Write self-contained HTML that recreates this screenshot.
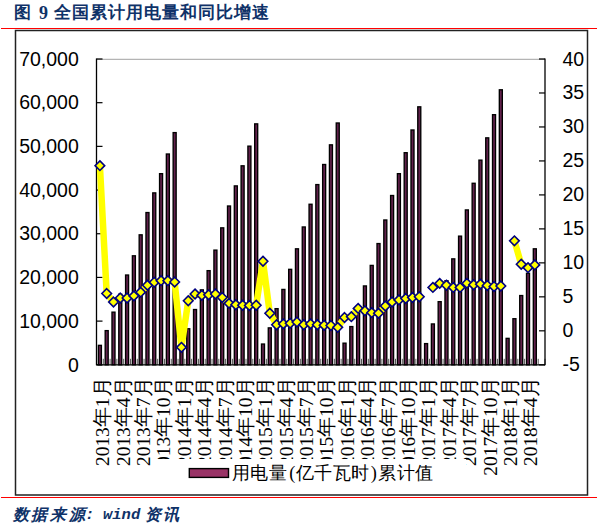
<!DOCTYPE html>
<html><head><meta charset="utf-8"><style>
html,body{margin:0;padding:0;background:#fff;width:606px;height:525px;overflow:hidden}
svg{display:block}
.ax{font-family:"Liberation Sans",sans-serif;font-size:19.5px;fill:#000}
.xl .d{font-family:"Liberation Serif",serif;font-size:19.4px;fill:#000}
.xl .c{font-family:"Liberation Serif",serif;font-size:19.5px;fill:#000}
.lg{font-family:"Liberation Serif",serif;font-size:18.3px;fill:#000}
.ttl{font-family:"Liberation Serif",serif;font-size:17px;font-weight:bold;fill:#0f3268}
.srcm{font-family:"Liberation Mono",monospace;font-size:15.5px;font-weight:bold;font-style:italic;fill:#0f3268}
.src{font-family:"Liberation Serif",serif;font-size:16px;font-weight:bold;font-style:italic;fill:#0f3268}
</style></head><body>
<svg width="606" height="525" viewBox="0 0 606 525">
<text x="13.8" y="18.4" class="ttl">图</text><text x="39" y="18.5" class="ttl" style="font-size:18px">9</text><text x="53.60" y="18.4" class="ttl">全</text><text x="71.60" y="18.4" class="ttl">国</text><text x="89.60" y="18.4" class="ttl">累</text><text x="107.60" y="18.4" class="ttl">计</text><text x="125.60" y="18.4" class="ttl">用</text><text x="143.60" y="18.4" class="ttl">电</text><text x="161.60" y="18.4" class="ttl">量</text><text x="179.60" y="18.4" class="ttl">和</text><text x="197.60" y="18.4" class="ttl">同</text><text x="215.60" y="18.4" class="ttl">比</text><text x="233.60" y="18.4" class="ttl">增</text><text x="251.60" y="18.4" class="ttl">速</text>
<line x1="1" y1="28.5" x2="597" y2="28.5" stroke="#ff0000" stroke-width="1.1"/>
<rect x="15.5" y="30.5" width="572" height="464.5" fill="none" stroke="#222" stroke-width="1.5"/>
<line x1="96.5" y1="59.3" x2="545.0" y2="59.3" stroke="#b4b4b4" stroke-width="1.2"/>
<rect x="98.40" y="345.35" width="3.0" height="19.45" fill="#62214c" stroke="#000" stroke-width="1.35"/>
<rect x="105.19" y="330.63" width="3.0" height="34.17" fill="#62214c" stroke="#000" stroke-width="1.35"/>
<rect x="111.99" y="312.15" width="3.0" height="52.65" fill="#62214c" stroke="#000" stroke-width="1.35"/>
<rect x="118.78" y="294.24" width="3.0" height="70.56" fill="#62214c" stroke="#000" stroke-width="1.35"/>
<rect x="125.58" y="275.02" width="3.0" height="89.78" fill="#62214c" stroke="#000" stroke-width="1.35"/>
<rect x="132.38" y="255.80" width="3.0" height="109.00" fill="#62214c" stroke="#000" stroke-width="1.35"/>
<rect x="139.17" y="234.83" width="3.0" height="129.97" fill="#62214c" stroke="#000" stroke-width="1.35"/>
<rect x="145.97" y="212.55" width="3.0" height="152.25" fill="#62214c" stroke="#000" stroke-width="1.35"/>
<rect x="152.76" y="192.89" width="3.0" height="171.91" fill="#62214c" stroke="#000" stroke-width="1.35"/>
<rect x="159.56" y="173.67" width="3.0" height="191.13" fill="#62214c" stroke="#000" stroke-width="1.35"/>
<rect x="166.35" y="154.01" width="3.0" height="210.79" fill="#62214c" stroke="#000" stroke-width="1.35"/>
<rect x="173.15" y="132.61" width="3.0" height="232.19" fill="#62214c" stroke="#000" stroke-width="1.35"/>
<rect x="179.94" y="345.79" width="3.0" height="19.01" fill="#62214c" stroke="#000" stroke-width="1.35"/>
<rect x="186.74" y="328.75" width="3.0" height="36.05" fill="#62214c" stroke="#000" stroke-width="1.35"/>
<rect x="193.53" y="309.53" width="3.0" height="55.27" fill="#62214c" stroke="#000" stroke-width="1.35"/>
<rect x="200.33" y="289.87" width="3.0" height="74.93" fill="#62214c" stroke="#000" stroke-width="1.35"/>
<rect x="207.12" y="270.65" width="3.0" height="94.15" fill="#62214c" stroke="#000" stroke-width="1.35"/>
<rect x="213.92" y="250.12" width="3.0" height="114.68" fill="#62214c" stroke="#000" stroke-width="1.35"/>
<rect x="220.72" y="227.84" width="3.0" height="136.96" fill="#62214c" stroke="#000" stroke-width="1.35"/>
<rect x="227.51" y="206.00" width="3.0" height="158.80" fill="#62214c" stroke="#000" stroke-width="1.35"/>
<rect x="234.31" y="185.90" width="3.0" height="178.90" fill="#62214c" stroke="#000" stroke-width="1.35"/>
<rect x="241.10" y="165.81" width="3.0" height="198.99" fill="#62214c" stroke="#000" stroke-width="1.35"/>
<rect x="247.90" y="146.15" width="3.0" height="218.65" fill="#62214c" stroke="#000" stroke-width="1.35"/>
<rect x="254.69" y="123.87" width="3.0" height="240.93" fill="#62214c" stroke="#000" stroke-width="1.35"/>
<rect x="261.49" y="344.04" width="3.0" height="20.76" fill="#62214c" stroke="#000" stroke-width="1.35"/>
<rect x="268.28" y="327.88" width="3.0" height="36.92" fill="#62214c" stroke="#000" stroke-width="1.35"/>
<rect x="275.08" y="308.66" width="3.0" height="56.14" fill="#62214c" stroke="#000" stroke-width="1.35"/>
<rect x="281.88" y="289.44" width="3.0" height="75.36" fill="#62214c" stroke="#000" stroke-width="1.35"/>
<rect x="288.67" y="269.34" width="3.0" height="95.46" fill="#62214c" stroke="#000" stroke-width="1.35"/>
<rect x="295.47" y="248.81" width="3.0" height="115.99" fill="#62214c" stroke="#000" stroke-width="1.35"/>
<rect x="302.26" y="226.97" width="3.0" height="137.83" fill="#62214c" stroke="#000" stroke-width="1.35"/>
<rect x="309.06" y="204.25" width="3.0" height="160.55" fill="#62214c" stroke="#000" stroke-width="1.35"/>
<rect x="315.85" y="184.59" width="3.0" height="180.21" fill="#62214c" stroke="#000" stroke-width="1.35"/>
<rect x="322.65" y="164.50" width="3.0" height="200.30" fill="#62214c" stroke="#000" stroke-width="1.35"/>
<rect x="329.44" y="144.84" width="3.0" height="219.96" fill="#62214c" stroke="#000" stroke-width="1.35"/>
<rect x="336.24" y="122.99" width="3.0" height="241.81" fill="#62214c" stroke="#000" stroke-width="1.35"/>
<rect x="343.03" y="343.17" width="3.0" height="21.63" fill="#62214c" stroke="#000" stroke-width="1.35"/>
<rect x="349.83" y="326.57" width="3.0" height="38.23" fill="#62214c" stroke="#000" stroke-width="1.35"/>
<rect x="356.62" y="307.78" width="3.0" height="57.02" fill="#62214c" stroke="#000" stroke-width="1.35"/>
<rect x="363.42" y="285.94" width="3.0" height="78.86" fill="#62214c" stroke="#000" stroke-width="1.35"/>
<rect x="370.22" y="265.41" width="3.0" height="99.39" fill="#62214c" stroke="#000" stroke-width="1.35"/>
<rect x="377.01" y="243.57" width="3.0" height="121.23" fill="#62214c" stroke="#000" stroke-width="1.35"/>
<rect x="383.81" y="219.98" width="3.0" height="144.82" fill="#62214c" stroke="#000" stroke-width="1.35"/>
<rect x="390.60" y="195.51" width="3.0" height="169.29" fill="#62214c" stroke="#000" stroke-width="1.35"/>
<rect x="397.40" y="173.67" width="3.0" height="191.13" fill="#62214c" stroke="#000" stroke-width="1.35"/>
<rect x="404.19" y="152.70" width="3.0" height="212.10" fill="#62214c" stroke="#000" stroke-width="1.35"/>
<rect x="410.99" y="129.98" width="3.0" height="234.82" fill="#62214c" stroke="#000" stroke-width="1.35"/>
<rect x="417.78" y="106.83" width="3.0" height="257.97" fill="#62214c" stroke="#000" stroke-width="1.35"/>
<rect x="424.58" y="343.61" width="3.0" height="21.19" fill="#62214c" stroke="#000" stroke-width="1.35"/>
<rect x="431.38" y="323.95" width="3.0" height="40.85" fill="#62214c" stroke="#000" stroke-width="1.35"/>
<rect x="438.17" y="301.67" width="3.0" height="63.13" fill="#62214c" stroke="#000" stroke-width="1.35"/>
<rect x="444.97" y="280.70" width="3.0" height="84.10" fill="#62214c" stroke="#000" stroke-width="1.35"/>
<rect x="451.76" y="258.86" width="3.0" height="105.94" fill="#62214c" stroke="#000" stroke-width="1.35"/>
<rect x="458.56" y="236.14" width="3.0" height="128.66" fill="#62214c" stroke="#000" stroke-width="1.35"/>
<rect x="465.35" y="209.93" width="3.0" height="154.87" fill="#62214c" stroke="#000" stroke-width="1.35"/>
<rect x="472.15" y="183.28" width="3.0" height="181.52" fill="#62214c" stroke="#000" stroke-width="1.35"/>
<rect x="478.94" y="160.13" width="3.0" height="204.67" fill="#62214c" stroke="#000" stroke-width="1.35"/>
<rect x="485.74" y="137.85" width="3.0" height="226.95" fill="#62214c" stroke="#000" stroke-width="1.35"/>
<rect x="492.53" y="114.69" width="3.0" height="250.11" fill="#62214c" stroke="#000" stroke-width="1.35"/>
<rect x="499.33" y="89.79" width="3.0" height="275.01" fill="#62214c" stroke="#000" stroke-width="1.35"/>
<rect x="506.12" y="338.36" width="3.0" height="26.44" fill="#62214c" stroke="#000" stroke-width="1.35"/>
<rect x="512.92" y="318.71" width="3.0" height="46.09" fill="#62214c" stroke="#000" stroke-width="1.35"/>
<rect x="519.72" y="295.55" width="3.0" height="69.25" fill="#62214c" stroke="#000" stroke-width="1.35"/>
<rect x="526.51" y="273.27" width="3.0" height="91.53" fill="#62214c" stroke="#000" stroke-width="1.35"/>
<rect x="533.31" y="248.81" width="3.0" height="115.99" fill="#62214c" stroke="#000" stroke-width="1.35"/>
<line x1="96.50" y1="358.8" x2="96.50" y2="364.8" stroke="#555" stroke-width="1"/>
<line x1="103.30" y1="358.8" x2="103.30" y2="364.8" stroke="#555" stroke-width="1"/>
<line x1="110.09" y1="358.8" x2="110.09" y2="364.8" stroke="#555" stroke-width="1"/>
<line x1="116.89" y1="358.8" x2="116.89" y2="364.8" stroke="#555" stroke-width="1"/>
<line x1="123.68" y1="358.8" x2="123.68" y2="364.8" stroke="#555" stroke-width="1"/>
<line x1="130.48" y1="358.8" x2="130.48" y2="364.8" stroke="#555" stroke-width="1"/>
<line x1="137.27" y1="358.8" x2="137.27" y2="364.8" stroke="#555" stroke-width="1"/>
<line x1="144.07" y1="358.8" x2="144.07" y2="364.8" stroke="#555" stroke-width="1"/>
<line x1="150.86" y1="358.8" x2="150.86" y2="364.8" stroke="#555" stroke-width="1"/>
<line x1="157.66" y1="358.8" x2="157.66" y2="364.8" stroke="#555" stroke-width="1"/>
<line x1="164.45" y1="358.8" x2="164.45" y2="364.8" stroke="#555" stroke-width="1"/>
<line x1="171.25" y1="358.8" x2="171.25" y2="364.8" stroke="#555" stroke-width="1"/>
<line x1="178.05" y1="358.8" x2="178.05" y2="364.8" stroke="#555" stroke-width="1"/>
<line x1="184.84" y1="358.8" x2="184.84" y2="364.8" stroke="#555" stroke-width="1"/>
<line x1="191.64" y1="358.8" x2="191.64" y2="364.8" stroke="#555" stroke-width="1"/>
<line x1="198.43" y1="358.8" x2="198.43" y2="364.8" stroke="#555" stroke-width="1"/>
<line x1="205.23" y1="358.8" x2="205.23" y2="364.8" stroke="#555" stroke-width="1"/>
<line x1="212.02" y1="358.8" x2="212.02" y2="364.8" stroke="#555" stroke-width="1"/>
<line x1="218.82" y1="358.8" x2="218.82" y2="364.8" stroke="#555" stroke-width="1"/>
<line x1="225.61" y1="358.8" x2="225.61" y2="364.8" stroke="#555" stroke-width="1"/>
<line x1="232.41" y1="358.8" x2="232.41" y2="364.8" stroke="#555" stroke-width="1"/>
<line x1="239.20" y1="358.8" x2="239.20" y2="364.8" stroke="#555" stroke-width="1"/>
<line x1="246.00" y1="358.8" x2="246.00" y2="364.8" stroke="#555" stroke-width="1"/>
<line x1="252.80" y1="358.8" x2="252.80" y2="364.8" stroke="#555" stroke-width="1"/>
<line x1="259.59" y1="358.8" x2="259.59" y2="364.8" stroke="#555" stroke-width="1"/>
<line x1="266.39" y1="358.8" x2="266.39" y2="364.8" stroke="#555" stroke-width="1"/>
<line x1="273.18" y1="358.8" x2="273.18" y2="364.8" stroke="#555" stroke-width="1"/>
<line x1="279.98" y1="358.8" x2="279.98" y2="364.8" stroke="#555" stroke-width="1"/>
<line x1="286.77" y1="358.8" x2="286.77" y2="364.8" stroke="#555" stroke-width="1"/>
<line x1="293.57" y1="358.8" x2="293.57" y2="364.8" stroke="#555" stroke-width="1"/>
<line x1="300.36" y1="358.8" x2="300.36" y2="364.8" stroke="#555" stroke-width="1"/>
<line x1="307.16" y1="358.8" x2="307.16" y2="364.8" stroke="#555" stroke-width="1"/>
<line x1="313.95" y1="358.8" x2="313.95" y2="364.8" stroke="#555" stroke-width="1"/>
<line x1="320.75" y1="358.8" x2="320.75" y2="364.8" stroke="#555" stroke-width="1"/>
<line x1="327.55" y1="358.8" x2="327.55" y2="364.8" stroke="#555" stroke-width="1"/>
<line x1="334.34" y1="358.8" x2="334.34" y2="364.8" stroke="#555" stroke-width="1"/>
<line x1="341.14" y1="358.8" x2="341.14" y2="364.8" stroke="#555" stroke-width="1"/>
<line x1="347.93" y1="358.8" x2="347.93" y2="364.8" stroke="#555" stroke-width="1"/>
<line x1="354.73" y1="358.8" x2="354.73" y2="364.8" stroke="#555" stroke-width="1"/>
<line x1="361.52" y1="358.8" x2="361.52" y2="364.8" stroke="#555" stroke-width="1"/>
<line x1="368.32" y1="358.8" x2="368.32" y2="364.8" stroke="#555" stroke-width="1"/>
<line x1="375.11" y1="358.8" x2="375.11" y2="364.8" stroke="#555" stroke-width="1"/>
<line x1="381.91" y1="358.8" x2="381.91" y2="364.8" stroke="#555" stroke-width="1"/>
<line x1="388.70" y1="358.8" x2="388.70" y2="364.8" stroke="#555" stroke-width="1"/>
<line x1="395.50" y1="358.8" x2="395.50" y2="364.8" stroke="#555" stroke-width="1"/>
<line x1="402.30" y1="358.8" x2="402.30" y2="364.8" stroke="#555" stroke-width="1"/>
<line x1="409.09" y1="358.8" x2="409.09" y2="364.8" stroke="#555" stroke-width="1"/>
<line x1="415.89" y1="358.8" x2="415.89" y2="364.8" stroke="#555" stroke-width="1"/>
<line x1="422.68" y1="358.8" x2="422.68" y2="364.8" stroke="#555" stroke-width="1"/>
<line x1="429.48" y1="358.8" x2="429.48" y2="364.8" stroke="#555" stroke-width="1"/>
<line x1="436.27" y1="358.8" x2="436.27" y2="364.8" stroke="#555" stroke-width="1"/>
<line x1="443.07" y1="358.8" x2="443.07" y2="364.8" stroke="#555" stroke-width="1"/>
<line x1="449.86" y1="358.8" x2="449.86" y2="364.8" stroke="#555" stroke-width="1"/>
<line x1="456.66" y1="358.8" x2="456.66" y2="364.8" stroke="#555" stroke-width="1"/>
<line x1="463.45" y1="358.8" x2="463.45" y2="364.8" stroke="#555" stroke-width="1"/>
<line x1="470.25" y1="358.8" x2="470.25" y2="364.8" stroke="#555" stroke-width="1"/>
<line x1="477.05" y1="358.8" x2="477.05" y2="364.8" stroke="#555" stroke-width="1"/>
<line x1="483.84" y1="358.8" x2="483.84" y2="364.8" stroke="#555" stroke-width="1"/>
<line x1="490.64" y1="358.8" x2="490.64" y2="364.8" stroke="#555" stroke-width="1"/>
<line x1="497.43" y1="358.8" x2="497.43" y2="364.8" stroke="#555" stroke-width="1"/>
<line x1="504.23" y1="358.8" x2="504.23" y2="364.8" stroke="#555" stroke-width="1"/>
<line x1="511.02" y1="358.8" x2="511.02" y2="364.8" stroke="#555" stroke-width="1"/>
<line x1="517.82" y1="358.8" x2="517.82" y2="364.8" stroke="#555" stroke-width="1"/>
<line x1="524.61" y1="358.8" x2="524.61" y2="364.8" stroke="#555" stroke-width="1"/>
<line x1="531.41" y1="358.8" x2="531.41" y2="364.8" stroke="#555" stroke-width="1"/>
<line x1="538.20" y1="358.8" x2="538.20" y2="364.8" stroke="#555" stroke-width="1"/>
<line x1="545.00" y1="358.8" x2="545.00" y2="364.8" stroke="#555" stroke-width="1"/>
<line x1="96.5" y1="58.5" x2="96.5" y2="365.3" stroke="#000" stroke-width="1.3"/>
<line x1="545.0" y1="58.5" x2="545.0" y2="365.3" stroke="#000" stroke-width="1.3"/>
<line x1="96.5" y1="364.8" x2="545.0" y2="364.8" stroke="#000" stroke-width="1.3"/>
<line x1="96.5" y1="59.00" x2="102.5" y2="59.00" stroke="#000" stroke-width="1.2"/>
<line x1="96.5" y1="102.69" x2="102.5" y2="102.69" stroke="#000" stroke-width="1.2"/>
<line x1="96.5" y1="146.37" x2="102.5" y2="146.37" stroke="#000" stroke-width="1.2"/>
<line x1="96.5" y1="190.06" x2="102.5" y2="190.06" stroke="#000" stroke-width="1.2"/>
<line x1="96.5" y1="233.74" x2="102.5" y2="233.74" stroke="#000" stroke-width="1.2"/>
<line x1="96.5" y1="277.43" x2="102.5" y2="277.43" stroke="#000" stroke-width="1.2"/>
<line x1="96.5" y1="321.11" x2="102.5" y2="321.11" stroke="#000" stroke-width="1.2"/>
<line x1="96.5" y1="364.80" x2="102.5" y2="364.80" stroke="#000" stroke-width="1.2"/>
<line x1="539.0" y1="59.00" x2="545.0" y2="59.00" stroke="#000" stroke-width="1.2"/>
<line x1="539.0" y1="92.98" x2="545.0" y2="92.98" stroke="#000" stroke-width="1.2"/>
<line x1="539.0" y1="126.96" x2="545.0" y2="126.96" stroke="#000" stroke-width="1.2"/>
<line x1="539.0" y1="160.93" x2="545.0" y2="160.93" stroke="#000" stroke-width="1.2"/>
<line x1="539.0" y1="194.91" x2="545.0" y2="194.91" stroke="#000" stroke-width="1.2"/>
<line x1="539.0" y1="228.89" x2="545.0" y2="228.89" stroke="#000" stroke-width="1.2"/>
<line x1="539.0" y1="262.87" x2="545.0" y2="262.87" stroke="#000" stroke-width="1.2"/>
<line x1="539.0" y1="296.84" x2="545.0" y2="296.84" stroke="#000" stroke-width="1.2"/>
<line x1="539.0" y1="330.82" x2="545.0" y2="330.82" stroke="#000" stroke-width="1.2"/>
<line x1="539.0" y1="364.80" x2="545.0" y2="364.80" stroke="#000" stroke-width="1.2"/>
<clipPath id="pc"><rect x="96.5" y="59.0" width="448.5" height="305.8"/></clipPath>
<polyline clip-path="url(#pc)" points="99.90,165.69 106.69,293.51 113.49,302.01 120.28,298.00 127.08,298.00 133.88,295.89 140.67,292.16 147.47,285.22 154.26,282.30 161.06,280.67 167.85,280.67 174.65,282.03 181.44,347.34 188.24,300.72 195.03,293.99 201.83,295.35 208.62,294.81 215.42,293.99 222.22,297.52 229.01,303.37 235.81,304.73 242.60,305.20 249.40,305.54 256.19,305.20 262.99,261.24 269.78,313.22 276.58,324.71 283.38,323.89 290.17,323.35 296.97,322.06 303.76,324.71 310.56,323.89 317.35,324.71 324.15,325.25 330.94,325.52 337.74,327.36 344.53,317.50 351.33,316.69 358.12,308.40 364.92,310.84 371.72,312.68 378.51,313.22 385.31,306.02 392.10,302.01 398.90,299.90 405.69,298.54 412.49,297.52 419.28,296.71" fill="none" stroke="#ffff00" stroke-width="6.5" stroke-linejoin="round"/>
<polyline clip-path="url(#pc)" points="432.88,287.40 439.67,283.39 446.47,285.22 453.26,287.40 460.06,287.40 466.85,283.39 473.65,284.75 480.44,284.14 487.24,285.50 494.03,286.52 500.83,285.97" fill="none" stroke="#ffff00" stroke-width="6.5" stroke-linejoin="round"/>
<polyline clip-path="url(#pc)" points="514.42,240.85 521.22,264.23 528.01,267.69 534.81,264.91" fill="none" stroke="#ffff00" stroke-width="6.5" stroke-linejoin="round"/>
<path d="M99.90 160.89L104.70 165.69L99.90 170.49L95.10 165.69Z" fill="#ffff00" stroke="#000080" stroke-width="1.6"/>
<path d="M106.69 288.71L111.49 293.51L106.69 298.31L101.89 293.51Z" fill="#ffff00" stroke="#000080" stroke-width="1.6"/>
<path d="M113.49 297.21L118.29 302.01L113.49 306.81L108.69 302.01Z" fill="#ffff00" stroke="#000080" stroke-width="1.6"/>
<path d="M120.28 293.20L125.08 298.00L120.28 302.80L115.48 298.00Z" fill="#ffff00" stroke="#000080" stroke-width="1.6"/>
<path d="M127.08 293.20L131.88 298.00L127.08 302.80L122.28 298.00Z" fill="#ffff00" stroke="#000080" stroke-width="1.6"/>
<path d="M133.88 291.09L138.68 295.89L133.88 300.69L129.07 295.89Z" fill="#ffff00" stroke="#000080" stroke-width="1.6"/>
<path d="M140.67 287.36L145.47 292.16L140.67 296.96L135.87 292.16Z" fill="#ffff00" stroke="#000080" stroke-width="1.6"/>
<path d="M147.47 280.42L152.27 285.22L147.47 290.02L142.67 285.22Z" fill="#ffff00" stroke="#000080" stroke-width="1.6"/>
<path d="M154.26 277.50L159.06 282.30L154.26 287.10L149.46 282.30Z" fill="#ffff00" stroke="#000080" stroke-width="1.6"/>
<path d="M161.06 275.87L165.86 280.67L161.06 285.47L156.26 280.67Z" fill="#ffff00" stroke="#000080" stroke-width="1.6"/>
<path d="M167.85 275.87L172.65 280.67L167.85 285.47L163.05 280.67Z" fill="#ffff00" stroke="#000080" stroke-width="1.6"/>
<path d="M174.65 277.23L179.45 282.03L174.65 286.83L169.85 282.03Z" fill="#ffff00" stroke="#000080" stroke-width="1.6"/>
<path d="M181.44 342.54L186.24 347.34L181.44 352.14L176.64 347.34Z" fill="#ffff00" stroke="#000080" stroke-width="1.6"/>
<path d="M188.24 295.92L193.04 300.72L188.24 305.52L183.44 300.72Z" fill="#ffff00" stroke="#000080" stroke-width="1.6"/>
<path d="M195.03 289.19L199.83 293.99L195.03 298.79L190.23 293.99Z" fill="#ffff00" stroke="#000080" stroke-width="1.6"/>
<path d="M201.83 290.55L206.63 295.35L201.83 300.15L197.03 295.35Z" fill="#ffff00" stroke="#000080" stroke-width="1.6"/>
<path d="M208.62 290.01L213.43 294.81L208.62 299.61L203.82 294.81Z" fill="#ffff00" stroke="#000080" stroke-width="1.6"/>
<path d="M215.42 289.19L220.22 293.99L215.42 298.79L210.62 293.99Z" fill="#ffff00" stroke="#000080" stroke-width="1.6"/>
<path d="M222.22 292.72L227.02 297.52L222.22 302.32L217.42 297.52Z" fill="#ffff00" stroke="#000080" stroke-width="1.6"/>
<path d="M229.01 298.57L233.81 303.37L229.01 308.17L224.21 303.37Z" fill="#ffff00" stroke="#000080" stroke-width="1.6"/>
<path d="M235.81 299.93L240.61 304.73L235.81 309.53L231.01 304.73Z" fill="#ffff00" stroke="#000080" stroke-width="1.6"/>
<path d="M242.60 300.40L247.40 305.20L242.60 310.00L237.80 305.20Z" fill="#ffff00" stroke="#000080" stroke-width="1.6"/>
<path d="M249.40 300.74L254.20 305.54L249.40 310.34L244.60 305.54Z" fill="#ffff00" stroke="#000080" stroke-width="1.6"/>
<path d="M256.19 300.40L260.99 305.20L256.19 310.00L251.39 305.20Z" fill="#ffff00" stroke="#000080" stroke-width="1.6"/>
<path d="M262.99 256.44L267.79 261.24L262.99 266.04L258.19 261.24Z" fill="#ffff00" stroke="#000080" stroke-width="1.6"/>
<path d="M269.78 308.42L274.58 313.22L269.78 318.02L264.98 313.22Z" fill="#ffff00" stroke="#000080" stroke-width="1.6"/>
<path d="M276.58 319.91L281.38 324.71L276.58 329.51L271.78 324.71Z" fill="#ffff00" stroke="#000080" stroke-width="1.6"/>
<path d="M283.38 319.09L288.18 323.89L283.38 328.69L278.57 323.89Z" fill="#ffff00" stroke="#000080" stroke-width="1.6"/>
<path d="M290.17 318.55L294.97 323.35L290.17 328.15L285.37 323.35Z" fill="#ffff00" stroke="#000080" stroke-width="1.6"/>
<path d="M296.97 317.26L301.77 322.06L296.97 326.86L292.17 322.06Z" fill="#ffff00" stroke="#000080" stroke-width="1.6"/>
<path d="M303.76 319.91L308.56 324.71L303.76 329.51L298.96 324.71Z" fill="#ffff00" stroke="#000080" stroke-width="1.6"/>
<path d="M310.56 319.09L315.36 323.89L310.56 328.69L305.76 323.89Z" fill="#ffff00" stroke="#000080" stroke-width="1.6"/>
<path d="M317.35 319.91L322.15 324.71L317.35 329.51L312.55 324.71Z" fill="#ffff00" stroke="#000080" stroke-width="1.6"/>
<path d="M324.15 320.45L328.95 325.25L324.15 330.05L319.35 325.25Z" fill="#ffff00" stroke="#000080" stroke-width="1.6"/>
<path d="M330.94 320.72L335.74 325.52L330.94 330.32L326.14 325.52Z" fill="#ffff00" stroke="#000080" stroke-width="1.6"/>
<path d="M337.74 322.56L342.54 327.36L337.74 332.16L332.94 327.36Z" fill="#ffff00" stroke="#000080" stroke-width="1.6"/>
<path d="M344.53 312.70L349.33 317.50L344.53 322.30L339.73 317.50Z" fill="#ffff00" stroke="#000080" stroke-width="1.6"/>
<path d="M351.33 311.89L356.13 316.69L351.33 321.49L346.53 316.69Z" fill="#ffff00" stroke="#000080" stroke-width="1.6"/>
<path d="M358.12 303.60L362.93 308.40L358.12 313.20L353.32 308.40Z" fill="#ffff00" stroke="#000080" stroke-width="1.6"/>
<path d="M364.92 306.04L369.72 310.84L364.92 315.64L360.12 310.84Z" fill="#ffff00" stroke="#000080" stroke-width="1.6"/>
<path d="M371.72 307.88L376.52 312.68L371.72 317.48L366.92 312.68Z" fill="#ffff00" stroke="#000080" stroke-width="1.6"/>
<path d="M378.51 308.42L383.31 313.22L378.51 318.02L373.71 313.22Z" fill="#ffff00" stroke="#000080" stroke-width="1.6"/>
<path d="M385.31 301.22L390.11 306.02L385.31 310.82L380.51 306.02Z" fill="#ffff00" stroke="#000080" stroke-width="1.6"/>
<path d="M392.10 297.21L396.90 302.01L392.10 306.81L387.30 302.01Z" fill="#ffff00" stroke="#000080" stroke-width="1.6"/>
<path d="M398.90 295.10L403.70 299.90L398.90 304.70L394.10 299.90Z" fill="#ffff00" stroke="#000080" stroke-width="1.6"/>
<path d="M405.69 293.74L410.49 298.54L405.69 303.34L400.89 298.54Z" fill="#ffff00" stroke="#000080" stroke-width="1.6"/>
<path d="M412.49 292.72L417.29 297.52L412.49 302.32L407.69 297.52Z" fill="#ffff00" stroke="#000080" stroke-width="1.6"/>
<path d="M419.28 291.91L424.08 296.71L419.28 301.51L414.48 296.71Z" fill="#ffff00" stroke="#000080" stroke-width="1.6"/>
<path d="M432.88 282.60L437.68 287.40L432.88 292.20L428.07 287.40Z" fill="#ffff00" stroke="#000080" stroke-width="1.6"/>
<path d="M439.67 278.59L444.47 283.39L439.67 288.19L434.87 283.39Z" fill="#ffff00" stroke="#000080" stroke-width="1.6"/>
<path d="M446.47 280.42L451.27 285.22L446.47 290.02L441.67 285.22Z" fill="#ffff00" stroke="#000080" stroke-width="1.6"/>
<path d="M453.26 282.60L458.06 287.40L453.26 292.20L448.46 287.40Z" fill="#ffff00" stroke="#000080" stroke-width="1.6"/>
<path d="M460.06 282.60L464.86 287.40L460.06 292.20L455.26 287.40Z" fill="#ffff00" stroke="#000080" stroke-width="1.6"/>
<path d="M466.85 278.59L471.65 283.39L466.85 288.19L462.05 283.39Z" fill="#ffff00" stroke="#000080" stroke-width="1.6"/>
<path d="M473.65 279.95L478.45 284.75L473.65 289.55L468.85 284.75Z" fill="#ffff00" stroke="#000080" stroke-width="1.6"/>
<path d="M480.44 279.34L485.24 284.14L480.44 288.94L475.64 284.14Z" fill="#ffff00" stroke="#000080" stroke-width="1.6"/>
<path d="M487.24 280.70L492.04 285.50L487.24 290.30L482.44 285.50Z" fill="#ffff00" stroke="#000080" stroke-width="1.6"/>
<path d="M494.03 281.72L498.83 286.52L494.03 291.32L489.23 286.52Z" fill="#ffff00" stroke="#000080" stroke-width="1.6"/>
<path d="M500.83 281.17L505.63 285.97L500.83 290.77L496.03 285.97Z" fill="#ffff00" stroke="#000080" stroke-width="1.6"/>
<path d="M514.42 236.05L519.22 240.85L514.42 245.65L509.62 240.85Z" fill="#ffff00" stroke="#000080" stroke-width="1.6"/>
<path d="M521.22 259.43L526.02 264.23L521.22 269.03L516.42 264.23Z" fill="#ffff00" stroke="#000080" stroke-width="1.6"/>
<path d="M528.01 262.89L532.81 267.69L528.01 272.49L523.21 267.69Z" fill="#ffff00" stroke="#000080" stroke-width="1.6"/>
<path d="M534.81 260.11L539.61 264.91L534.81 269.71L530.01 264.91Z" fill="#ffff00" stroke="#000080" stroke-width="1.6"/>
<text x="78.8" y="65.70" text-anchor="end" class="ax">70,000</text>
<text x="78.8" y="109.39" text-anchor="end" class="ax">60,000</text>
<text x="78.8" y="153.07" text-anchor="end" class="ax">50,000</text>
<text x="78.8" y="196.76" text-anchor="end" class="ax">40,000</text>
<text x="78.8" y="240.44" text-anchor="end" class="ax">30,000</text>
<text x="78.8" y="284.13" text-anchor="end" class="ax">20,000</text>
<text x="78.8" y="327.81" text-anchor="end" class="ax">10,000</text>
<text x="78.8" y="371.50" text-anchor="end" class="ax">0</text>
<text x="562.5" y="65.50" class="ax">40</text>
<text x="562.5" y="99.48" class="ax">35</text>
<text x="562.5" y="133.46" class="ax">30</text>
<text x="562.5" y="167.43" class="ax">25</text>
<text x="562.5" y="201.41" class="ax">20</text>
<text x="562.5" y="235.39" class="ax">15</text>
<text x="562.5" y="269.37" class="ax">10</text>
<text x="562.5" y="303.34" class="ax">5</text>
<text x="562.5" y="337.32" class="ax">0</text>
<text x="562.5" y="371.30" class="ax">-5</text>
<g class="xl">
<g transform="translate(109.20,0) rotate(-90)"><text x="-466.00" y="0" class="d">2</text><text x="-456.30" y="0" class="d">0</text><text x="-446.60" y="0" class="d">1</text><text x="-436.90" y="0" class="d">3</text><text x="-426.95" y="0" class="c">年</text><text x="-407.20" y="0" class="d">1</text><text x="-397.25" y="0" class="c">月</text></g>
<g transform="translate(129.59,0) rotate(-90)"><text x="-466.00" y="0" class="d">2</text><text x="-456.30" y="0" class="d">0</text><text x="-446.60" y="0" class="d">1</text><text x="-436.90" y="0" class="d">3</text><text x="-426.95" y="0" class="c">年</text><text x="-407.20" y="0" class="d">4</text><text x="-397.25" y="0" class="c">月</text></g>
<g transform="translate(149.97,0) rotate(-90)"><text x="-466.00" y="0" class="d">2</text><text x="-456.30" y="0" class="d">0</text><text x="-446.60" y="0" class="d">1</text><text x="-436.90" y="0" class="d">3</text><text x="-426.95" y="0" class="c">年</text><text x="-407.20" y="0" class="d">7</text><text x="-397.25" y="0" class="c">月</text></g>
<g transform="translate(170.36,0) rotate(-90)"><text x="-475.70" y="0" class="d">2</text><text x="-466.00" y="0" class="d">0</text><text x="-456.30" y="0" class="d">1</text><text x="-446.60" y="0" class="d">3</text><text x="-436.65" y="0" class="c">年</text><text x="-416.90" y="0" class="d">1</text><text x="-407.20" y="0" class="d">0</text><text x="-397.25" y="0" class="c">月</text></g>
<g transform="translate(190.75,0) rotate(-90)"><text x="-466.00" y="0" class="d">2</text><text x="-456.30" y="0" class="d">0</text><text x="-446.60" y="0" class="d">1</text><text x="-436.90" y="0" class="d">4</text><text x="-426.95" y="0" class="c">年</text><text x="-407.20" y="0" class="d">1</text><text x="-397.25" y="0" class="c">月</text></g>
<g transform="translate(211.13,0) rotate(-90)"><text x="-466.00" y="0" class="d">2</text><text x="-456.30" y="0" class="d">0</text><text x="-446.60" y="0" class="d">1</text><text x="-436.90" y="0" class="d">4</text><text x="-426.95" y="0" class="c">年</text><text x="-407.20" y="0" class="d">4</text><text x="-397.25" y="0" class="c">月</text></g>
<g transform="translate(231.52,0) rotate(-90)"><text x="-466.00" y="0" class="d">2</text><text x="-456.30" y="0" class="d">0</text><text x="-446.60" y="0" class="d">1</text><text x="-436.90" y="0" class="d">4</text><text x="-426.95" y="0" class="c">年</text><text x="-407.20" y="0" class="d">7</text><text x="-397.25" y="0" class="c">月</text></g>
<g transform="translate(251.90,0) rotate(-90)"><text x="-475.70" y="0" class="d">2</text><text x="-466.00" y="0" class="d">0</text><text x="-456.30" y="0" class="d">1</text><text x="-446.60" y="0" class="d">4</text><text x="-436.65" y="0" class="c">年</text><text x="-416.90" y="0" class="d">1</text><text x="-407.20" y="0" class="d">0</text><text x="-397.25" y="0" class="c">月</text></g>
<g transform="translate(272.29,0) rotate(-90)"><text x="-466.00" y="0" class="d">2</text><text x="-456.30" y="0" class="d">0</text><text x="-446.60" y="0" class="d">1</text><text x="-436.90" y="0" class="d">5</text><text x="-426.95" y="0" class="c">年</text><text x="-407.20" y="0" class="d">1</text><text x="-397.25" y="0" class="c">月</text></g>
<g transform="translate(292.68,0) rotate(-90)"><text x="-466.00" y="0" class="d">2</text><text x="-456.30" y="0" class="d">0</text><text x="-446.60" y="0" class="d">1</text><text x="-436.90" y="0" class="d">5</text><text x="-426.95" y="0" class="c">年</text><text x="-407.20" y="0" class="d">4</text><text x="-397.25" y="0" class="c">月</text></g>
<g transform="translate(313.06,0) rotate(-90)"><text x="-466.00" y="0" class="d">2</text><text x="-456.30" y="0" class="d">0</text><text x="-446.60" y="0" class="d">1</text><text x="-436.90" y="0" class="d">5</text><text x="-426.95" y="0" class="c">年</text><text x="-407.20" y="0" class="d">7</text><text x="-397.25" y="0" class="c">月</text></g>
<g transform="translate(333.45,0) rotate(-90)"><text x="-475.70" y="0" class="d">2</text><text x="-466.00" y="0" class="d">0</text><text x="-456.30" y="0" class="d">1</text><text x="-446.60" y="0" class="d">5</text><text x="-436.65" y="0" class="c">年</text><text x="-416.90" y="0" class="d">1</text><text x="-407.20" y="0" class="d">0</text><text x="-397.25" y="0" class="c">月</text></g>
<g transform="translate(353.84,0) rotate(-90)"><text x="-466.00" y="0" class="d">2</text><text x="-456.30" y="0" class="d">0</text><text x="-446.60" y="0" class="d">1</text><text x="-436.90" y="0" class="d">6</text><text x="-426.95" y="0" class="c">年</text><text x="-407.20" y="0" class="d">1</text><text x="-397.25" y="0" class="c">月</text></g>
<g transform="translate(374.22,0) rotate(-90)"><text x="-466.00" y="0" class="d">2</text><text x="-456.30" y="0" class="d">0</text><text x="-446.60" y="0" class="d">1</text><text x="-436.90" y="0" class="d">6</text><text x="-426.95" y="0" class="c">年</text><text x="-407.20" y="0" class="d">4</text><text x="-397.25" y="0" class="c">月</text></g>
<g transform="translate(394.61,0) rotate(-90)"><text x="-466.00" y="0" class="d">2</text><text x="-456.30" y="0" class="d">0</text><text x="-446.60" y="0" class="d">1</text><text x="-436.90" y="0" class="d">6</text><text x="-426.95" y="0" class="c">年</text><text x="-407.20" y="0" class="d">7</text><text x="-397.25" y="0" class="c">月</text></g>
<g transform="translate(415.00,0) rotate(-90)"><text x="-475.70" y="0" class="d">2</text><text x="-466.00" y="0" class="d">0</text><text x="-456.30" y="0" class="d">1</text><text x="-446.60" y="0" class="d">6</text><text x="-436.65" y="0" class="c">年</text><text x="-416.90" y="0" class="d">1</text><text x="-407.20" y="0" class="d">0</text><text x="-397.25" y="0" class="c">月</text></g>
<g transform="translate(435.38,0) rotate(-90)"><text x="-466.00" y="0" class="d">2</text><text x="-456.30" y="0" class="d">0</text><text x="-446.60" y="0" class="d">1</text><text x="-436.90" y="0" class="d">7</text><text x="-426.95" y="0" class="c">年</text><text x="-407.20" y="0" class="d">1</text><text x="-397.25" y="0" class="c">月</text></g>
<g transform="translate(455.77,0) rotate(-90)"><text x="-466.00" y="0" class="d">2</text><text x="-456.30" y="0" class="d">0</text><text x="-446.60" y="0" class="d">1</text><text x="-436.90" y="0" class="d">7</text><text x="-426.95" y="0" class="c">年</text><text x="-407.20" y="0" class="d">4</text><text x="-397.25" y="0" class="c">月</text></g>
<g transform="translate(476.15,0) rotate(-90)"><text x="-466.00" y="0" class="d">2</text><text x="-456.30" y="0" class="d">0</text><text x="-446.60" y="0" class="d">1</text><text x="-436.90" y="0" class="d">7</text><text x="-426.95" y="0" class="c">年</text><text x="-407.20" y="0" class="d">7</text><text x="-397.25" y="0" class="c">月</text></g>
<g transform="translate(496.54,0) rotate(-90)"><text x="-475.70" y="0" class="d">2</text><text x="-466.00" y="0" class="d">0</text><text x="-456.30" y="0" class="d">1</text><text x="-446.60" y="0" class="d">7</text><text x="-436.65" y="0" class="c">年</text><text x="-416.90" y="0" class="d">1</text><text x="-407.20" y="0" class="d">0</text><text x="-397.25" y="0" class="c">月</text></g>
<g transform="translate(516.93,0) rotate(-90)"><text x="-466.00" y="0" class="d">2</text><text x="-456.30" y="0" class="d">0</text><text x="-446.60" y="0" class="d">1</text><text x="-436.90" y="0" class="d">8</text><text x="-426.95" y="0" class="c">年</text><text x="-407.20" y="0" class="d">1</text><text x="-397.25" y="0" class="c">月</text></g>
<g transform="translate(537.31,0) rotate(-90)"><text x="-466.00" y="0" class="d">2</text><text x="-456.30" y="0" class="d">0</text><text x="-446.60" y="0" class="d">1</text><text x="-436.90" y="0" class="d">8</text><text x="-426.95" y="0" class="c">年</text><text x="-407.20" y="0" class="d">4</text><text x="-397.25" y="0" class="c">月</text></g>
</g>
<rect x="153" y="459" width="313" height="34" fill="#fff"/>
<rect x="189.3" y="468.6" width="39.2" height="8.8" fill="#993366" stroke="#000" stroke-width="1.4"/>
<text x="232" y="479" class="lg">用</text>
<text x="250.3" y="479" class="lg">电</text>
<text x="268.6" y="479" class="lg">量</text>
<text x="289.2" y="479" class="lg">(</text>
<text x="296" y="479" class="lg">亿</text>
<text x="314.3" y="479" class="lg">千</text>
<text x="332.6" y="479" class="lg">瓦</text>
<text x="350.9" y="479" class="lg">时</text>
<text x="370.8" y="479" class="lg">)</text>
<text x="378.4" y="479" class="lg">累</text>
<text x="396.7" y="479" class="lg">计</text>
<text x="415" y="479" class="lg">值</text>
<line x1="1" y1="497.5" x2="597" y2="497.5" stroke="#ff0000" stroke-width="1.1"/>
<text x="12.50" y="519.5" class="src">数</text><text x="31.20" y="519.5" class="src">据</text><text x="49.90" y="519.5" class="src">来</text><text x="68.60" y="519.5" class="src">源</text><text x="85" y="519" class="srcm">:</text><text x="103" y="519" class="srcm">wind</text><text x="145" y="519.5" class="src">资</text><text x="162.5" y="519.5" class="src">讯</text>
</svg>
</body></html>
